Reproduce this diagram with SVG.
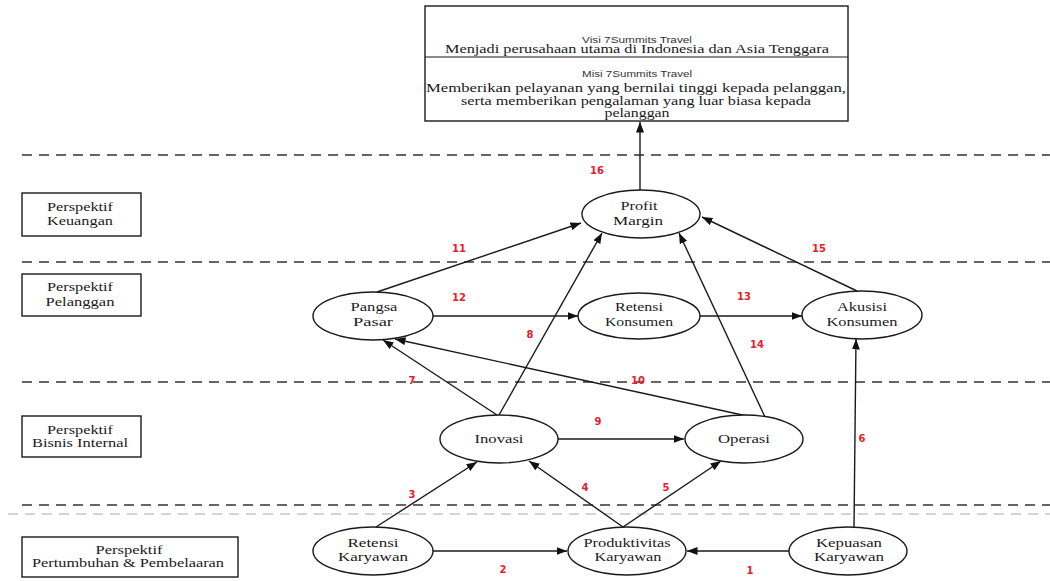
<svg xmlns="http://www.w3.org/2000/svg" width="1050" height="581" viewBox="0 0 1050 581">
<style>
.bg{fill:#fff}
.box{fill:#fff;stroke:#1a1a1a;stroke-width:1.4}
.ell{fill:#fff;stroke:#1a1a1a;stroke-width:1.4}
.t{font-family:"Liberation Serif","DejaVu Serif",serif;font-size:13px;fill:#1a1a1a;text-anchor:middle}
.tb{font-family:"Liberation Serif","DejaVu Serif",serif;font-size:11.5px;fill:#1a1a1a;text-anchor:middle}
.s{font-family:"Liberation Sans","DejaVu Sans",sans-serif;font-size:9px;fill:#333;text-anchor:middle}
.dash{stroke:#333;stroke-width:1.4;stroke-dasharray:10 7;fill:none}
.dash2{stroke:#aaa;stroke-width:1.2;stroke-dasharray:10 7;fill:none}
.c{stroke:#1a1a1a;stroke-width:1.4;fill:none;marker-end:url(#ah)}
.n{font-family:"DejaVu Sans","Liberation Sans",sans-serif;font-size:10px;font-weight:bold;fill:#e8202a;text-anchor:middle}
</style>
<defs>
<marker id="ah" markerUnits="userSpaceOnUse" markerWidth="11" markerHeight="8" refX="10.5" refY="4" orient="auto">
<path d="M0,0 L10.5,4 L0,8 z" fill="#111"/>
</marker>
</defs>
<rect class="bg" x="0" y="0" width="1050" height="581"/>

<g id="bands">
<line class="dash" x1="22" y1="155" x2="1050" y2="155"/>
<line class="dash" x1="22" y1="262" x2="1050" y2="262"/>
<line class="dash" x1="22" y1="382" x2="1050" y2="382"/>
<line class="dash" x1="22" y1="505" x2="1050" y2="505"/>
<line class="dash2" x1="8" y1="514" x2="1050" y2="514"/>
</g>

<g id="visi-misi">
<rect class="box" x="425" y="6" width="423" height="115"/>
<line x1="425" y1="57" x2="848" y2="57" stroke="#1a1a1a" stroke-width="1.2"/>
<text class="s" x="637" y="43" textLength="110" lengthAdjust="spacingAndGlyphs">Visi 7Summits Travel</text>
<text class="tb" x="637" y="53" textLength="384" lengthAdjust="spacingAndGlyphs">Menjadi perusahaan utama di Indonesia dan Asia Tenggara</text>
<text class="s" x="637" y="77" textLength="110" lengthAdjust="spacingAndGlyphs">Misi 7Summits Travel</text>
<text class="tb" x="636" y="92" textLength="420" lengthAdjust="spacingAndGlyphs">Memberikan pelayanan yang bernilai tinggi kepada pelanggan,</text>
<text class="tb" x="636" y="104.5" textLength="350" lengthAdjust="spacingAndGlyphs">serta memberikan pengalaman yang luar biasa kepada</text>
<text class="tb" x="637" y="117" textLength="65" lengthAdjust="spacingAndGlyphs">pelanggan</text>
</g>

<g id="persp-keuangan">
<rect class="box" x="22" y="193" width="119" height="43"/>
<text class="t" x="80" y="211" textLength="66" lengthAdjust="spacingAndGlyphs">Perspektif</text>
<text class="t" x="80" y="225" textLength="66" lengthAdjust="spacingAndGlyphs">Keuangan</text>
</g>
<g id="persp-pelanggan">
<rect class="box" x="22" y="274" width="119" height="42"/>
<text class="t" x="80" y="291" textLength="66" lengthAdjust="spacingAndGlyphs">Perspektif</text>
<text class="t" x="80" y="306" textLength="69" lengthAdjust="spacingAndGlyphs">Pelanggan</text>
</g>
<g id="persp-bisnis">
<rect class="box" x="22" y="416" width="119" height="41"/>
<text class="t" x="80" y="434" textLength="66" lengthAdjust="spacingAndGlyphs">Perspektif</text>
<text class="t" x="80" y="447" textLength="96" lengthAdjust="spacingAndGlyphs">Bisnis Internal</text>
</g>
<g id="persp-pertumbuhan">
<rect class="box" x="22" y="537" width="216" height="40"/>
<text class="t" x="129" y="554" textLength="67" lengthAdjust="spacingAndGlyphs">Perspektif</text>
<text class="t" x="128" y="567" textLength="192" lengthAdjust="spacingAndGlyphs">Pertumbuhan &amp; Pembelaaran</text>
</g>

<g id="connectors">
<line class="c" x1="640" y1="190" x2="640" y2="122"/>
<line class="c" x1="377" y1="292" x2="581" y2="223"/>
<line class="c" x1="499" y1="415" x2="602" y2="233"/>
<line class="c" x1="765" y1="417" x2="679" y2="233"/>
<line class="c" x1="857" y1="291" x2="702" y2="217"/>
<line class="c" x1="433" y1="316" x2="578" y2="316"/>
<line class="c" x1="700" y1="316" x2="802" y2="316"/>
<line class="c" x1="497" y1="415" x2="383" y2="340"/>
<line class="c" x1="747" y1="416" x2="395" y2="339"/>
<line class="c" x1="558" y1="439" x2="684" y2="439"/>
<line class="c" x1="376" y1="527" x2="477" y2="462"/>
<line class="c" x1="623" y1="527" x2="529" y2="461"/>
<line class="c" x1="623" y1="527" x2="721" y2="461"/>
<line class="c" x1="433" y1="551" x2="567" y2="551"/>
<line class="c" x1="789" y1="551" x2="687" y2="551"/>
<line class="c" x1="854" y1="527" x2="856" y2="339"/>
</g>

<g id="profit-margin">
<ellipse class="ell" cx="641" cy="214" rx="59" ry="24"/>
<text class="t" x="639" y="210" textLength="37" lengthAdjust="spacingAndGlyphs">Profit</text>
<text class="t" x="638" y="225" textLength="50" lengthAdjust="spacingAndGlyphs">Margin</text>
</g>
<g id="pangsa-pasar">
<ellipse class="ell" cx="373" cy="316" rx="60" ry="24"/>
<text class="t" x="374" y="311" textLength="47" lengthAdjust="spacingAndGlyphs">Pangsa</text>
<text class="t" x="373" y="326" textLength="40" lengthAdjust="spacingAndGlyphs">Pasar</text>
</g>
<g id="retensi-konsumen">
<ellipse class="ell" cx="639" cy="316" rx="61" ry="23"/>
<text class="t" x="639" y="311" textLength="48" lengthAdjust="spacingAndGlyphs">Retensi</text>
<text class="t" x="639" y="326" textLength="68" lengthAdjust="spacingAndGlyphs">Konsumen</text>
</g>
<g id="akusisi-konsumen">
<ellipse class="ell" cx="862" cy="315" rx="60" ry="24"/>
<text class="t" x="862" y="311" textLength="50" lengthAdjust="spacingAndGlyphs">Akusisi</text>
<text class="t" x="862" y="326" textLength="71" lengthAdjust="spacingAndGlyphs">Konsumen</text>
</g>
<g id="inovasi">
<ellipse class="ell" cx="499" cy="439" rx="59" ry="24"/>
<text class="t" x="499" y="443" textLength="49" lengthAdjust="spacingAndGlyphs">Inovasi</text>
</g>
<g id="operasi">
<ellipse class="ell" cx="744" cy="439" rx="59" ry="24"/>
<text class="t" x="744" y="443" textLength="52" lengthAdjust="spacingAndGlyphs">Operasi</text>
</g>
<g id="retensi-karyawan">
<ellipse class="ell" cx="373" cy="551" rx="60" ry="24"/>
<text class="t" x="373" y="547" textLength="51" lengthAdjust="spacingAndGlyphs">Retensi</text>
<text class="t" x="373" y="561" textLength="70" lengthAdjust="spacingAndGlyphs">Karyawan</text>
</g>
<g id="produktivitas-karyawan">
<ellipse class="ell" cx="627" cy="551" rx="59" ry="24"/>
<text class="t" x="627" y="547" textLength="87" lengthAdjust="spacingAndGlyphs">Produktivitas</text>
<text class="t" x="628" y="561" textLength="67" lengthAdjust="spacingAndGlyphs">Karyawan</text>
</g>
<g id="kepuasan-karyawan">
<ellipse class="ell" cx="848" cy="551" rx="59" ry="24"/>
<text class="t" x="849" y="547" textLength="66" lengthAdjust="spacingAndGlyphs">Kepuasan</text>
<text class="t" x="849" y="561" textLength="70" lengthAdjust="spacingAndGlyphs">Karyawan</text>
</g>

<g id="labels">
<text class="n" x="597" y="174">16</text>
<text class="n" x="459" y="252">11</text>
<text class="n" x="819" y="252">15</text>
<text class="n" x="459" y="301">12</text>
<text class="n" x="744" y="300">13</text>
<text class="n" x="530" y="338">8</text>
<text class="n" x="757" y="348">14</text>
<text class="n" x="412" y="384">7</text>
<text class="n" x="638" y="384">10</text>
<text class="n" x="598" y="425">9</text>
<text class="n" x="862" y="442">6</text>
<text class="n" x="412" y="498">3</text>
<text class="n" x="585" y="491">4</text>
<text class="n" x="666" y="491">5</text>
<text class="n" x="503" y="573">2</text>
<text class="n" x="750" y="574">1</text>
</g>
</svg>
